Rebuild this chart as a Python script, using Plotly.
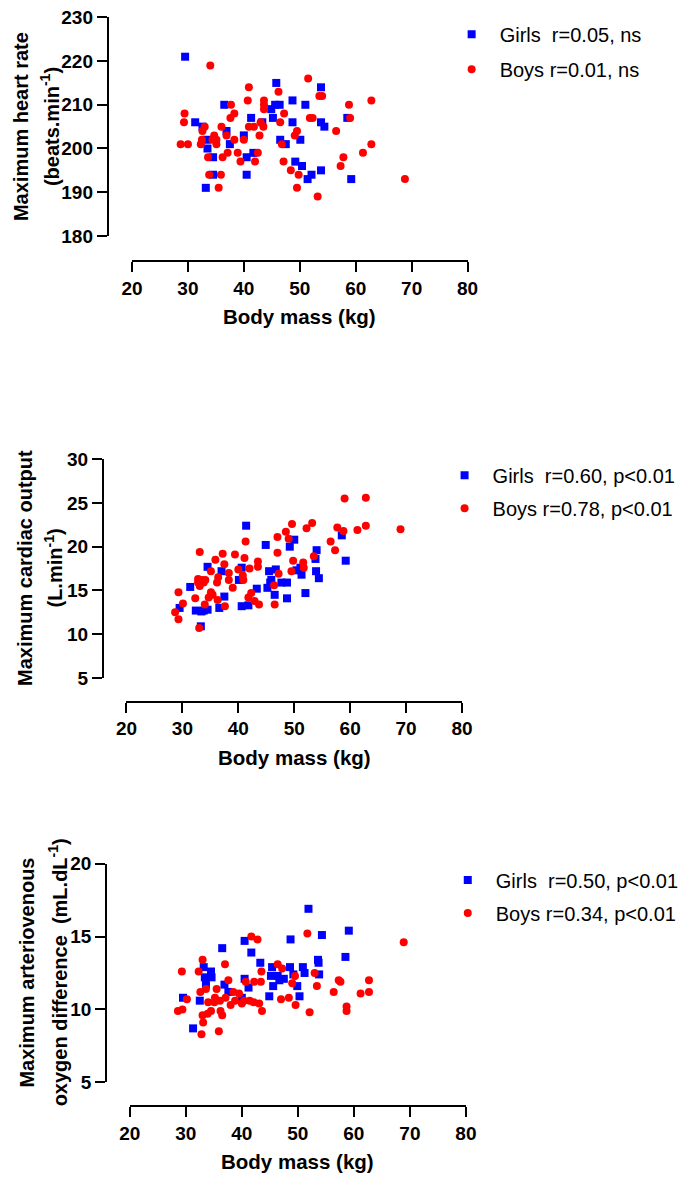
import plotly.graph_objects as go

W, H = 685, 1184

# ---------------- Panel 1: maximum heart rate ----------------
hr_girls_mass = [29.5, 31.3, 32.6, 33.4, 33.5, 33.2, 34.5, 34.5, 36.5, 36.9, 37.5, 40.0, 40.5, 40.5,
                 41.3, 41.7, 43.3, 44.9, 45.2, 45.8, 45.6, 46.4, 46.5, 47.5, 48.7, 48.7, 49.2, 50.1,
                 50.4, 51.0, 51.4, 52.1, 53.8, 53.8, 54.4, 53.8, 58.5, 59.2]
hr_girls = [221, 206, 205, 202, 200, 191, 198, 194, 210, 204, 201, 203, 198, 194,
            207, 199, 206, 209, 207, 215, 210, 210, 202, 201, 211, 206, 197, 202,
            196, 210, 193, 194, 214, 206, 205, 195, 207, 193]
hr_boys_mass = [28.7, 30.0, 29.4, 29.3, 34.0, 33.0, 32.6, 32.5, 32.3, 33.6, 33.8, 34.7, 35.1, 35.1,
                34.4, 36.0, 36.2, 35.9, 35.5, 36.9, 37.1, 37.7, 37.6, 38.3, 38.3, 38.9, 39.4, 40.0,
                40.7, 40.9, 40.9, 41.8, 42.0, 42.5, 42.8, 43.6, 43.6, 43.6, 43.5, 43.0, 46.2, 46.5,
                47.2, 46.8, 47.1, 48.4, 49.1, 49.5, 49.5, 49.8, 51.5, 51.8, 52.3, 53.2, 53.5, 54.0,
                56.5, 57.3, 57.8, 58.8, 59.0, 61.3, 62.8, 62.8, 68.8]
hr_boys = [201, 201, 208, 206, 219, 205, 204, 202, 201, 198, 194, 203, 202, 201,
           202, 205, 198, 194, 191, 203, 199, 210, 207, 208, 202, 199, 197, 202,
           211, 214, 205, 205, 197, 199, 203, 211, 210, 209, 205, 206, 213, 206,
           208, 201, 197, 195, 203, 204, 191, 194, 216, 207, 207, 189, 212, 212,
           204, 196, 198, 210, 207, 199, 211, 201, 193]

# ---------------- Panel 2: maximum cardiac output ----------------
co_girls_mass = [29.5, 31.4, 32.4, 33.3, 33.4, 33.8, 34.5, 34.5, 36.6, 37.0, 37.5, 40.1, 40.6, 40.6,
                 41.4, 41.8, 43.3, 44.9, 45.5, 45.2, 45.7, 45.9, 46.5, 46.7, 47.7, 48.7, 48.7, 49.2,
                 50.0, 50.4, 51.1, 51.3, 52.0, 53.8, 54.0, 53.9, 54.4, 58.5, 59.2]
co_girls = [13.0, 15.4, 12.7, 10.9, 12.6, 12.7, 12.8, 17.7, 13.0, 17.2, 14.3, 16.2, 17.6, 13.2,
            22.4, 13.3, 15.2, 20.2, 17.2, 15.3, 15.9, 16.2, 14.5, 17.4, 15.9, 15.9, 14.1, 20.0,
            20.8, 17.3, 17.6, 16.8, 14.7, 18.6, 19.6, 17.2, 16.4, 21.3, 18.4]
co_boys_mass = [28.7, 29.3, 29.3, 30.1, 32.3, 33.1, 32.8, 32.8, 33.1, 33.0, 33.5, 33.8, 34.1, 34.0,
                34.7, 35.1, 35.1, 35.4, 35.9, 36.2, 36.3, 36.4, 37.2, 37.5, 37.6, 38.3, 38.3, 39.0,
                39.4, 40.0, 40.8, 40.9, 41.1, 41.3, 42.0, 41.8, 42.3, 42.9, 43.5, 43.5, 43.7, 46.4,
                46.5, 47.0, 47.0, 47.2, 48.5, 49.0, 49.6, 49.8, 49.5, 51.7, 51.6, 52.2, 53.2, 53.5,
                56.5, 57.3, 57.7, 58.8, 59.0, 61.3, 62.8, 62.8, 69.0]
co_boys = [12.5, 11.7, 14.8, 13.5, 14.1, 19.4, 16.3, 15.9, 15.5, 10.7, 16.2, 15.9, 16.2, 13.4,
           14.2, 17.2, 14.8, 14.5, 18.5, 15.9, 13.9, 16.5, 19.2, 18.0, 13.2, 17.0, 16.2, 15.3,
           19.1, 17.4, 16.7, 16.2, 18.7, 20.6, 17.5, 14.2, 14.7, 13.8, 18.3, 17.7, 13.4, 15.6,
           13.4, 21.1, 19.3, 16.9, 21.7, 20.9, 22.6, 18.4, 17.2, 17.6, 18.2, 22.1, 22.7, 18.9,
           20.6, 19.6, 22.2, 21.8, 25.5, 21.9, 25.6, 22.4, 22.0]

# ---------------- Panel 3: maximum a-v O2 difference ----------------
av_girls_mass = [29.5, 31.3, 32.5, 33.2, 33.4, 33.6, 34.5, 34.6, 36.5, 36.9, 37.6, 40.0, 40.5, 40.5,
                 41.2, 41.7, 43.3, 44.9, 45.4, 45.2, 45.6, 46.4, 46.7, 47.5, 48.7, 48.6, 49.2, 49.9,
                 50.3, 50.9, 51.2, 51.9, 53.6, 53.7, 53.8, 54.3, 58.5, 59.1]
av_girls = [10.8, 8.7, 10.6, 12.9, 12.2, 11.7, 12.6, 12.2, 14.2, 11.7, 11.2, 10.8, 14.7, 12.1,
            11.5, 13.9, 13.2, 10.9, 12.9, 12.3, 11.6, 12.3, 12.0, 12.1, 14.8, 12.9, 12.4, 11.6,
            10.9, 12.9, 12.5, 16.9, 13.4, 13.2, 12.4, 15.1, 13.6, 15.4]
av_boys_mass = [28.6, 29.4, 29.3, 30.2, 32.3, 32.6, 32.8, 33.0, 33.1, 33.0, 33.6, 34.0, 33.9, 34.5,
                35.1, 35.2, 35.5, 36.1, 35.9, 36.2, 36.5, 37.0, 37.1, 37.6, 38.0, 38.5, 38.8, 39.5,
                40.0, 40.4, 40.7, 41.4, 41.7, 42.2, 42.1, 42.8, 43.1, 43.4, 43.5, 43.6, 46.4, 47.2,
                47.0, 48.4, 49.0, 49.5, 49.6, 51.7, 52.1, 53.0, 53.4, 56.4, 57.3, 57.6, 58.7, 58.7,
                62.7, 62.7, 61.2, 68.9]
av_boys = [9.9, 10.0, 12.6, 10.7, 12.6, 11.2, 8.3, 13.4, 9.1, 9.6, 11.4, 10.5, 9.7, 9.9,
           10.5, 10.8, 11.4, 10.6, 8.5, 9.9, 9.6, 13.1, 10.8, 12.0, 10.3, 11.2, 10.6, 11.1,
           10.4, 10.6, 11.9, 10.6, 15.0, 11.9, 10.5, 14.8, 10.4, 11.9, 12.6, 9.9, 13.1, 12.8,
           10.7, 10.8, 11.8, 12.3, 10.3, 15.2, 9.8, 12.5, 11.6, 11.2, 12.0, 11.9, 10.2, 9.9,
           12.0, 11.2, 11.1, 14.6]

x_range = [20, 80]
x_ticks = [20, 30, 40, 50, 60, 70, 80]
x_title = "Body mass (kg)"

panels = [
    dict(gm=hr_girls_mass, gv=hr_girls, bm=hr_boys_mass, bv=hr_boys,
         yrange=[180, 230], yticks=[180, 190, 200, 210, 220, 230],
         ytitle1="Maximum heart rate", ytitle2="(beats.min<sup>-1</sup>)",
         girls_label="Girls\u00a0 r=0.05, ns", boys_label="Boys r=0.01, ns",
         yline=100, ydom=(7.5, 230), xdom=(125, 471.7), xline=256,
         yt1=10.5, yt2=40.5, ytc=119, xtc=298, xty=312,
         leg_marker=475, leg_center=42.5, leg_gap=6),
    dict(gm=co_girls_mass, gv=co_girls, bm=co_boys_mass, bv=co_boys,
         yrange=[5, 30], yticks=[5, 10, 15, 20, 25, 30],
         ytitle1="Maximum cardiac output", ytitle2="(L.min<sup>-1</sup>)",
         girls_label="Girls\u00a0 r=0.60, p<0.01", boys_label="Boys r=0.78, p<0.01",
         yline=95, ydom=(457.3, 680), xdom=(119.3, 466), xline=704,
         yt1=14.5, yt2=44, ytc=568, xtc=292.6, xty=760.5,
         leg_marker=467.7, leg_center=490.5, leg_gap=4),
    dict(gm=av_girls_mass, gv=av_girls, bm=av_boys_mass, bv=av_boys,
         yrange=[5, 20], yticks=[5, 10, 15, 20],
         ytitle1="Maximum arteriovenous", ytitle2="oxygen difference\u00a0 (mL.dL<sup>-1</sup>)",
         girls_label="Girls\u00a0 r=0.50, p<0.01", boys_label="Boys r=0.34, p<0.01",
         yline=98.3, ydom=(869, 1091.7), xdom=(122.7, 470), xline=1116,
         yt1=16.5, yt2=48.3, ytc=980, xtc=296.3, xty=1172,
         leg_marker=471, leg_center=902.5, leg_gap=4),
]

FONT = "Liberation Sans, Arial, Helvetica, sans-serif"
BLUE = "#0000FF"
RED = "#FF0000"
ITEMW = 46


def px(x):
    return x / W


def py(y):
    return 1 - y / H


fig = go.Figure()
layout = dict(width=W, height=H, margin=dict(l=0, r=0, t=0, b=0),
              paper_bgcolor="white", plot_bgcolor="white",
              font=dict(family=FONT, color="black"))
annotations = []

for i, p in enumerate(panels):
    n = "" if i == 0 else str(i + 1)
    xa, ya = "x" + n, "y" + n
    leg = "legend" + n
    fig.add_trace(go.Scatter(x=p["gm"], y=p["gv"], mode="markers", name=p["girls_label"],
                             xaxis=xa, yaxis=ya, legend=leg, legendgroup="g" + n,
                             marker=dict(symbol="square", size=8, color=BLUE), cliponaxis=False))
    fig.add_trace(go.Scatter(x=p["bm"], y=p["bv"], mode="markers", name=p["boys_label"],
                             xaxis=xa, yaxis=ya, legend=leg, legendgroup="b" + n,
                             marker=dict(symbol="circle", size=8, color=RED), cliponaxis=False))
    ax_common = dict(showline=True, linewidth=2, linecolor="black", ticks="outside",
                     ticklen=10, tickwidth=2, tickcolor="black", showgrid=False, zeroline=False,
                     tickfont=dict(family=FONT, size=19, color="black", weight="bold"))
    layout["xaxis" + n] = dict(range=x_range, tickvals=x_ticks, anchor="free",
                               position=py(p["xline"]),
                               domain=[px(p["xdom"][0]), px(p["xdom"][1])], **ax_common)
    layout["yaxis" + n] = dict(range=p["yrange"], tickvals=p["yticks"], anchor="free",
                               position=px(p["yline"]),
                               domain=[py(p["ydom"][1]), py(p["ydom"][0])], **ax_common)
    leg_left = p["leg_marker"] - 5 - ITEMW / 2
    layout[leg] = dict(x=px(leg_left), y=py(p["leg_center"]), xanchor="left", yanchor="middle",
                       font=dict(family=FONT, size=20, color="black"), bgcolor="rgba(0,0,0,0)",
                       traceorder="grouped", tracegroupgap=p["leg_gap"], itemwidth=ITEMW)
    for txt, xs in ((p["ytitle1"], p["yt1"]), (p["ytitle2"], p["yt2"])):
        annotations.append(dict(text=txt, x=px(xs), y=py(p["ytc"]),
                                xref="paper", yref="paper", showarrow=False, textangle=-90,
                                xanchor="center", yanchor="middle",
                                font=dict(family=FONT, size=20, color="black", weight="bold")))
    annotations.append(dict(text=x_title, x=px(p["xtc"]), y=py(p["xty"]),
                            xref="paper", yref="paper", showarrow=False,
                            xanchor="center", yanchor="middle",
                            font=dict(family=FONT, size=20.5, color="black", weight="bold")))

layout["annotations"] = annotations
layout["showlegend"] = True
fig.update_layout(**layout)

fig.write_html("out.html", config={"displayModeBar": False},
               post_script="document.body.style.margin='0';document.body.style.padding='0';")
